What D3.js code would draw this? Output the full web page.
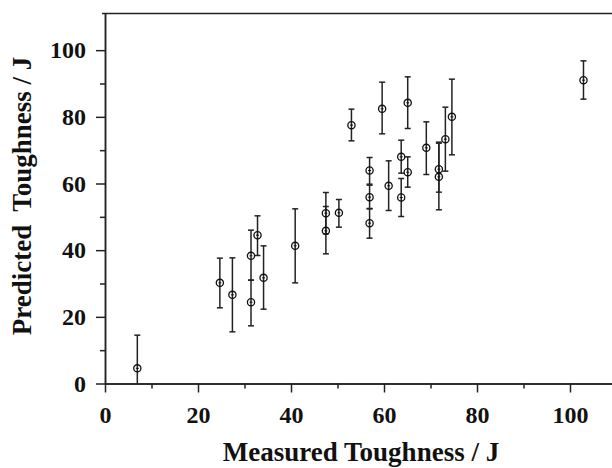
<!DOCTYPE html>
<html lang="en">
<head>
<meta charset="UTF-8" />
<title>Predicted vs Measured Toughness</title>
<script src="https://cdn.jsdelivr.net/npm/d3@7"></script>
<style>
  body { margin: 0; background: #fff; }
  svg { display: block; }
  text { font-family: "Liberation Serif", "Times New Roman", serif; font-weight: bold; fill: #111; }
</style>
</head>
<body>
<svg id="chart" width="612" height="468"></svg>
<script>
// values (J)
const measured  = [6.95, 24.7, 27.4, 31.4, 31.4, 32.8, 34.1, 40.9, 47.5, 47.5, 50.3, 53.0, 56.9, 56.9, 56.9, 59.6, 61.0, 63.7, 63.7, 65.1, 65.1, 69.1, 71.8, 71.8, 73.2, 74.6, 102.9];
const predicted = [4.55, 30.2, 26.6, 38.3, 24.4, 44.5, 31.7, 41.3, 51.1, 45.8, 51.2, 77.5, 63.9, 55.9, 48.1, 82.4, 59.3, 68.0, 55.8, 84.2, 63.4, 70.7, 64.3, 62.0, 73.3, 80.0, 91.0];
const upper     = [14.5, 37.6, 37.7, 46.0, 31.0, 50.3, 41.3, 52.4, 57.3, 53.1, 55.2, 82.3, 67.8, 59.5, 52.5, 90.4, 66.8, 73.0, 61.5, 92.0, 68.0, 78.5, 72.4, 72.1, 82.9, 91.3, 96.8];
const lower     = [0, 22.7, 15.5, 31.0, 17.3, 38.4, 22.3, 30.2, 44.9, 38.9, 46.9, 72.8, 59.8, 52.4, 43.6, 74.9, 51.9, 63.1, 50.1, 76.5, 58.9, 62.7, 57.4, 52.1, 63.7, 68.6, 85.3];

const majorTicks = [0, 20, 40, 60, 80, 100];
const minorTicks = [10, 30, 50, 70, 90];
const xTitle = "Measured Toughness / J";
const yTitle = "Predicted  Toughness / J";

const svg = d3.select("#chart");
const x = d3.scaleLinear().domain([0, 110]).range([105, 616.5]);
const y = d3.scaleLinear().domain([0, 111]).range([383.5, 13.5]);

const points = measured.map((m, i) => ({m, p: predicted[i], hi: upper[i], lo: lower[i]}));

// axes
function styleAxis(g) {
  g.selectAll("path, line").attr("stroke", "#222").attr("stroke-width", 1.5);
  g.selectAll("text").attr("font-size", 24).attr("font-family", null);
}

svg.append("g").attr("transform", `translate(0,${y(0)})`)
  .call(d3.axisBottom(x).tickValues(minorTicks).tickSize(5).tickSizeOuter(0).tickFormat(""))
  .call(styleAxis);
svg.append("g").attr("transform", `translate(0,${y(0)})`)
  .call(d3.axisBottom(x).tickValues(majorTicks).tickSize(9).tickSizeOuter(0).tickPadding(13))
  .call(styleAxis);

svg.append("g").attr("transform", `translate(${x(0)},0)`)
  .call(d3.axisLeft(y).tickValues(minorTicks).tickSize(5).tickSizeOuter(0).tickFormat(""))
  .call(styleAxis);
svg.append("g").attr("transform", `translate(${x(0)},0)`)
  .call(d3.axisLeft(y).tickValues(majorTicks).tickSize(9).tickSizeOuter(0).tickPadding(10))
  .call(styleAxis);

// top frame line
svg.append("line")
  .attr("x1", x(0) - 3).attr("x2", 612)
  .attr("y1", y(111)).attr("y2", y(111))
  .attr("stroke", "#222").attr("stroke-width", 1.5);

// error bars
const bars = svg.append("g").attr("stroke", "#222").attr("stroke-width", 1.5).attr("fill", "none");
points.forEach(d => {
  bars.append("line").attr("x1", x(d.m)).attr("x2", x(d.m)).attr("y1", y(d.hi)).attr("y2", y(d.lo));
  bars.append("line").attr("x1", x(d.m) - 3).attr("x2", x(d.m) + 3).attr("y1", y(d.hi)).attr("y2", y(d.hi));
  if (d.lo > 0)
    bars.append("line").attr("x1", x(d.m) - 3).attr("x2", x(d.m) + 3).attr("y1", y(d.lo)).attr("y2", y(d.lo));
});

// markers
svg.append("g").selectAll("circle")
  .data(points)
  .join("circle")
  .attr("cx", d => x(d.m))
  .attr("cy", d => y(d.p))
  .attr("r", 3.6)
  .attr("fill", "none")
  .attr("stroke", "#111")
  .attr("stroke-width", 1.3);

svg.append("g").selectAll("line")
  .data(points)
  .join("line")
  .attr("x1", d => x(d.m) - 1.5)
  .attr("x2", d => x(d.m) + 1.5)
  .attr("y1", d => y(d.p))
  .attr("y2", d => y(d.p))
  .attr("stroke", "#111")
  .attr("stroke-width", 1);

// titles
svg.append("text")
  .attr("x", 361).attr("y", 461)
  .attr("text-anchor", "middle")
  .attr("font-size", 27)
  .text(xTitle);

svg.append("text")
  .attr("transform", "translate(31,196) rotate(-90)")
  .attr("text-anchor", "middle")
  .attr("font-size", 27)
  .style("white-space", "pre")
  .text(yTitle);
</script>
</body>
</html>
